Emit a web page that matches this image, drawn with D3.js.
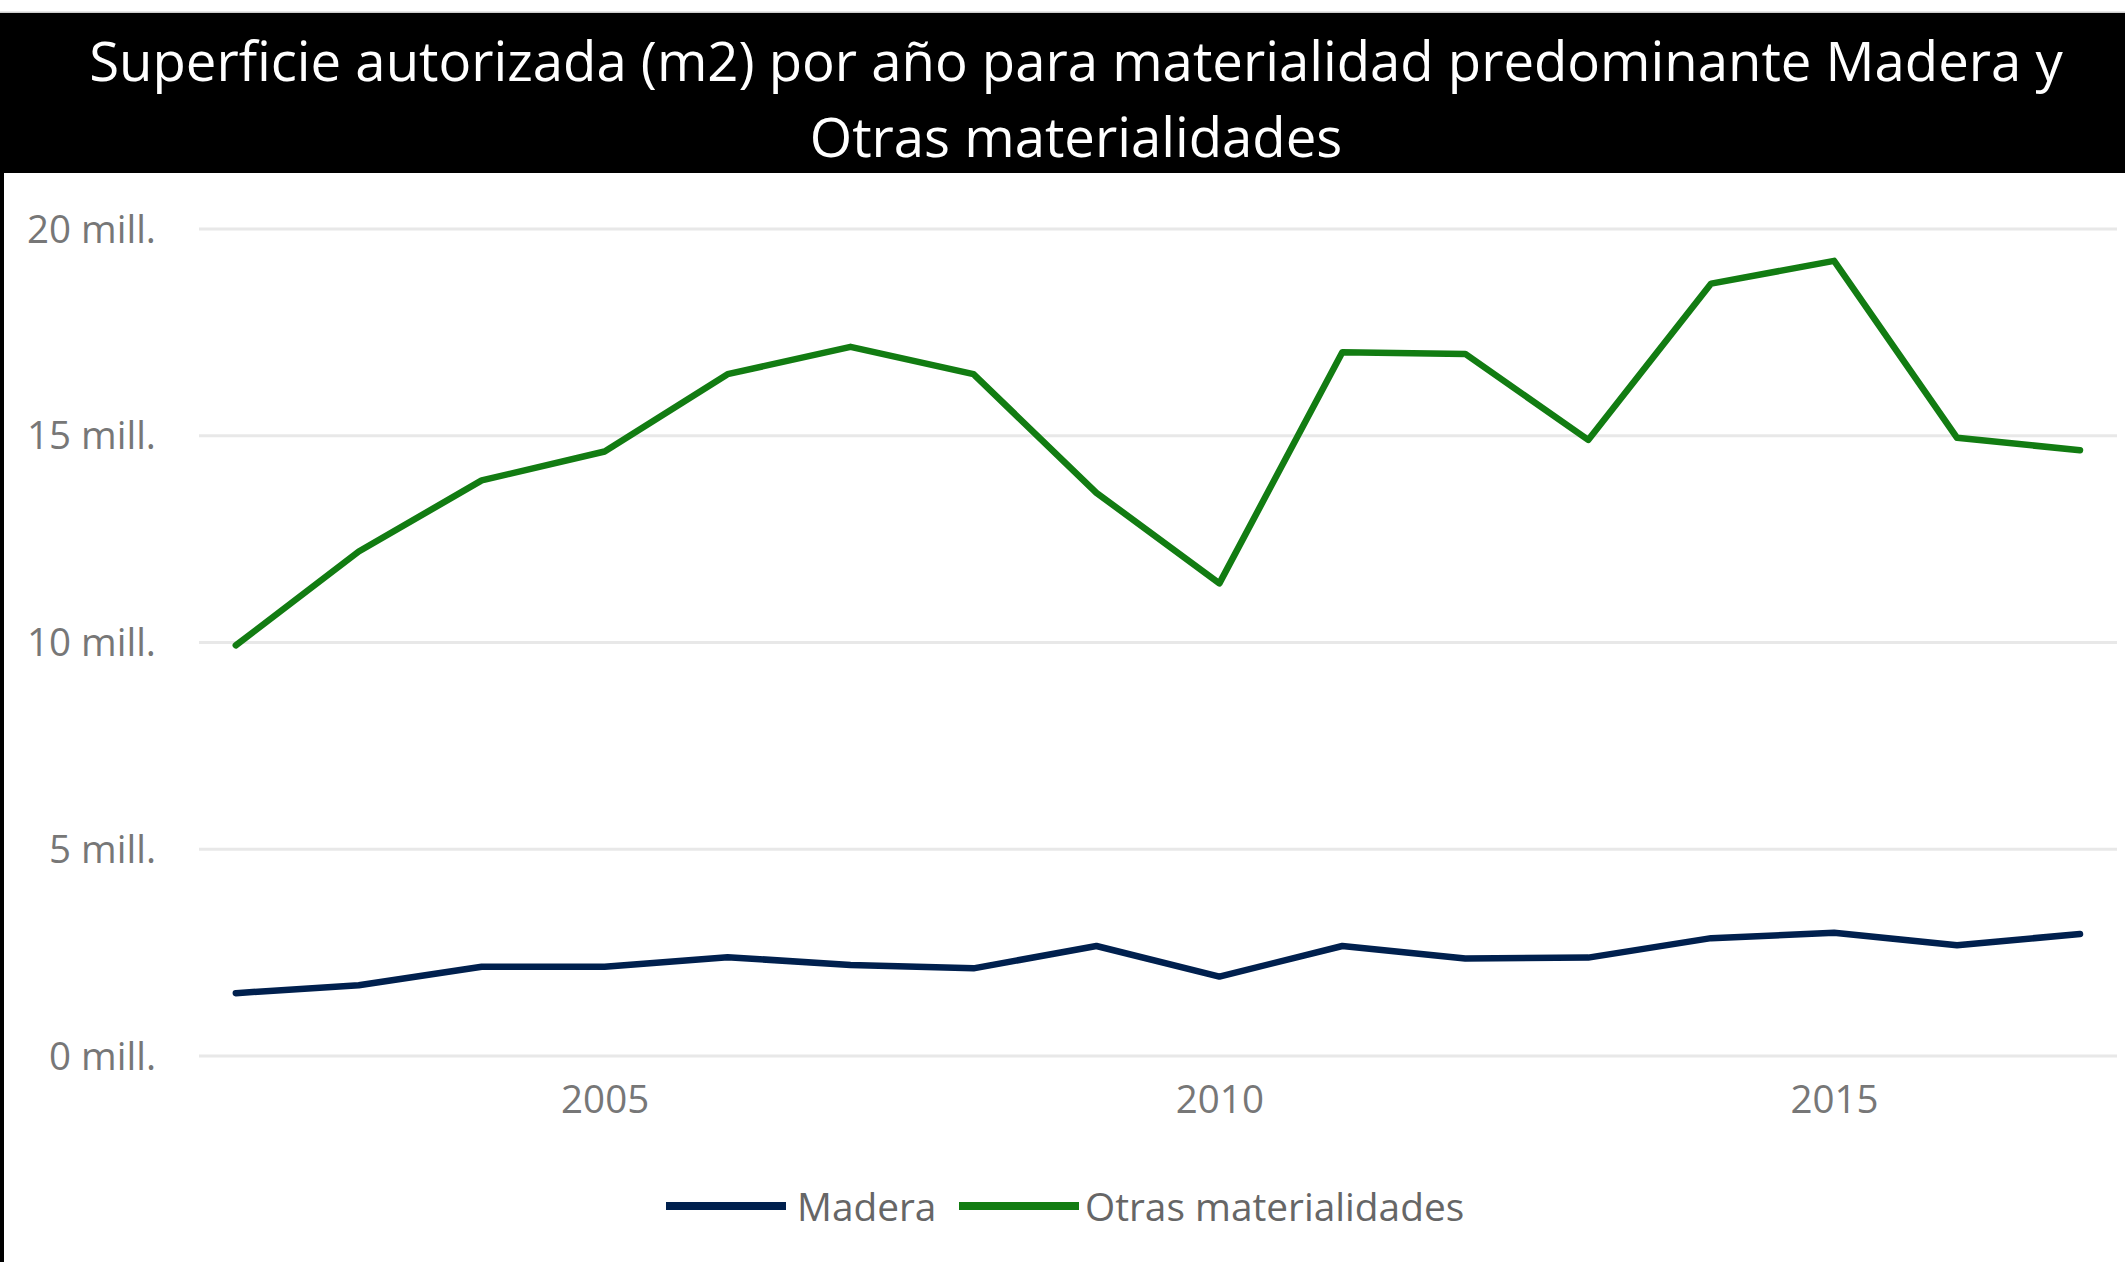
<!DOCTYPE html>
<html>
<head>
<meta charset="utf-8">
<script src="https://cdn.jsdelivr.net/npm/d3@7"></script>
<style>
  html, body { margin: 0; padding: 0; background: #fff; }
  svg { display: block; }
  text { font-family: "Open Sans", "Noto Sans", sans-serif; }
</style>
</head>
<body>
<svg id="chart" width="2125" height="1262"></svg>
<script>
// ---- data ----
const years = [2002, 2003, 2004, 2005, 2006, 2007, 2008, 2009, 2010, 2011, 2012, 2013, 2014, 2015, 2016, 2017];
const madera = [1.52, 1.71, 2.16, 2.16, 2.39, 2.20, 2.12, 2.66, 1.92, 2.66, 2.36, 2.38, 2.85, 2.98, 2.68, 2.95].map(v => v * 1e6);
const otras = [9.93, 12.2, 13.92, 14.62, 16.49, 17.15, 16.49, 13.62, 11.43, 17.02, 16.98, 14.9, 18.68, 19.23, 14.95, 14.65].map(v => v * 1e6);
const seriesNames = ["Madera", "Otras materialidades"];
const seriesColors = ["#00204E", "#127C12"];
const yTicks = [0, 5e6, 10e6, 15e6, 20e6];
const xTicks = [2005, 2010, 2015];
const titleLines = ["Superficie autorizada (m2) por año para materialidad predominante Madera y", "Otras materialidades"];

// ---- layout ----
const W = 2125, H = 1262;
const svg = d3.select("#chart");

// background frame
svg.append("rect").attr("x", 0).attr("y", 0).attr("width", W).attr("height", H).attr("fill", "#fff");
svg.append("rect").attr("x", 0).attr("y", 11.5).attr("width", W).attr("height", 1.5).attr("fill", "#cfcfcf");
svg.append("rect").attr("x", 0).attr("y", 13).attr("width", W).attr("height", 160).attr("fill", "#000");
svg.append("rect").attr("x", 0).attr("y", 13).attr("width", 4).attr("height", H - 13).attr("fill", "#000");

// title
const titleCx = 1076;
const t1 = svg.append("text").attr("x", titleCx).attr("y", 81).attr("text-anchor", "middle")
  .attr("fill", "#fff").attr("font-size", 46).text(titleLines[0]);
const w1 = t1.node().getComputedTextLength();
const fs = 46 * 1974 / w1;
t1.attr("font-size", fs);
svg.append("text").attr("x", titleCx).attr("y", 157).attr("text-anchor", "middle")
  .attr("fill", "#fff").attr("font-size", fs).text(titleLines[1]);

// scales
const x = d3.scaleLinear().domain([2002, 2017]).range([235.8, 2080]);
const y = d3.scaleLinear().domain([0, 20e6]).range([1056, 229]);
const gridX0 = 199, gridX1 = 2117;

// gridlines
svg.append("g").selectAll("line").data(yTicks).join("line")
  .attr("x1", gridX0).attr("x2", gridX1)
  .attr("y1", d => y(d)).attr("y2", d => y(d))
  .attr("stroke", "#E8E8E8").attr("stroke-width", 3);

// y axis labels
const yAxis = d3.axisLeft(y).tickValues(yTicks).tickSize(0).tickPadding(0)
  .tickFormat(d => (d / 1e6) + " mill.");
const gy = svg.append("g").attr("transform", "translate(156,0)").call(yAxis);
gy.select(".domain").remove();
gy.selectAll("text").attr("font-size", 38.5).attr("fill", "#777777")
  .attr("font-family", "'Open Sans', sans-serif").attr("dy", "0.34em");

// x axis labels
const xAxis = d3.axisBottom(x).tickValues(xTicks).tickSize(0).tickPadding(0).tickFormat(d3.format("d"));
const gx = svg.append("g").attr("transform", "translate(0,1113)").call(xAxis);
gx.select(".domain").remove();
gx.selectAll("text").attr("font-size", 38.5).attr("fill", "#777777")
  .attr("font-family", "'Open Sans', sans-serif").attr("dy", 0);

// lines
const lineGen = d3.line().x((d, i) => x(years[i])).y(d => y(d));
const allSeries = [madera, otras];
svg.append("g").selectAll("path").data(allSeries).join("path")
  .attr("d", d => lineGen(d))
  .attr("fill", "none")
  .attr("stroke", (d, i) => seriesColors[i])
  .attr("stroke-width", 6.5)
  .attr("stroke-linejoin", "round")
  .attr("stroke-linecap", "round");

// legend
const legendItems = [
  { name: seriesNames[0], color: seriesColors[0], x0: 666, tx: 797 },
  { name: seriesNames[1], color: seriesColors[1], x0: 959, tx: 1085 }
];
const lg = svg.append("g");
legendItems.forEach(it => {
  lg.append("line").attr("x1", it.x0).attr("x2", it.x0 + 120)
    .attr("y1", 1206).attr("y2", 1206)
    .attr("stroke", it.color).attr("stroke-width", 8);
  lg.append("text").attr("x", it.tx).attr("y", 1221).attr("font-size", 38.8)
    .attr("fill", "#666666").text(it.name);
});
</script>
</body>
</html>
